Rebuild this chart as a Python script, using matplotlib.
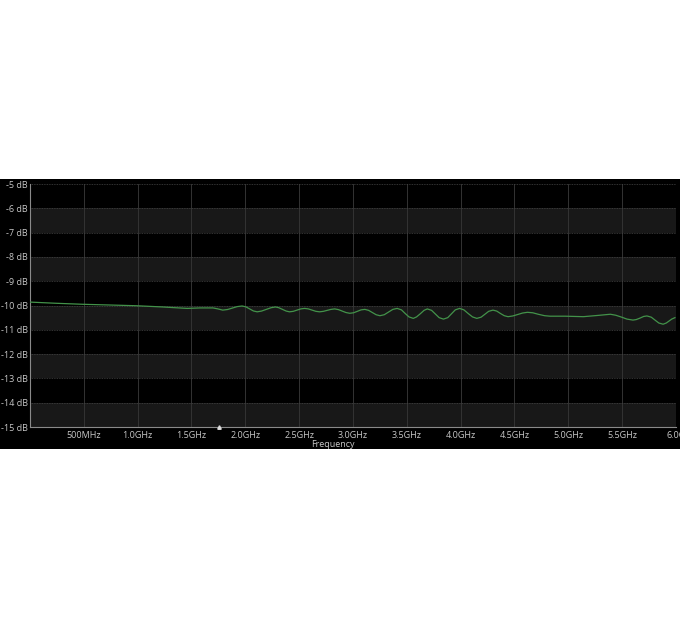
import matplotlib
matplotlib.use('Agg')
import matplotlib.pyplot as plt
from matplotlib.patches import Rectangle

plt.rcParams['font.family'] = ['Open Sans', 'DejaVu Sans']

# frequency (GHz) and level (dB)
freq = [0.00, 0.25, 0.49, 0.74, 0.99, 1.23, 1.46, 1.58, 1.70, 1.745,
        1.79, 1.835, 1.88, 1.925, 1.97, 2.005, 2.04, 2.075, 2.11, 2.15,
        2.195, 2.24, 2.28, 2.31, 2.345, 2.38, 2.41, 2.445, 2.48, 2.515,
        2.55, 2.585, 2.62, 2.655, 2.69, 2.725, 2.76, 2.795, 2.83, 2.865,
        2.90, 2.935, 2.97, 3.005, 3.04, 3.075, 3.11, 3.145, 3.18, 3.215,
        3.25, 3.29, 3.33, 3.37, 3.41, 3.45, 3.485, 3.52, 3.56, 3.59,
        3.625, 3.66, 3.69, 3.73, 3.765, 3.80, 3.84, 3.88, 3.915, 3.95,
        3.99, 4.03, 4.07, 4.11, 4.15, 4.19, 4.225, 4.26, 4.30, 4.335,
        4.37, 4.405, 4.44, 4.485, 4.53, 4.575, 4.62, 4.67, 4.72, 4.78,
        4.83, 4.97, 5.14, 5.27, 5.39, 5.44, 5.495, 5.545, 5.60, 5.63,
        5.665, 5.70, 5.73, 5.77, 5.805, 5.84, 5.88, 5.91, 5.935, 5.96,
        5.99]
level = [-9.86, -9.91, -9.95, -9.98, -10.01, -10.06, -10.12, -10.10, -10.10, -10.14,
         -10.19, -10.165, -10.105, -10.045, -10.02, -10.055, -10.14, -10.225, -10.26, -10.23,
         -10.16, -10.09, -10.06, -10.09, -10.16, -10.23, -10.26, -10.24, -10.19, -10.14,
         -10.12, -10.14, -10.19, -10.24, -10.26, -10.24, -10.20, -10.16, -10.14, -10.17,
         -10.23, -10.29, -10.32, -10.30, -10.24, -10.18, -10.16, -10.20, -10.29, -10.38,
         -10.42, -10.38, -10.27, -10.16, -10.12, -10.18, -10.33, -10.47, -10.53, -10.47,
         -10.34, -10.20, -10.14, -10.20, -10.35, -10.50, -10.56, -10.50, -10.34, -10.18,
         -10.12, -10.18, -10.33, -10.47, -10.53, -10.48, -10.36, -10.24, -10.19, -10.23,
         -10.33, -10.42, -10.46, -10.43, -10.37, -10.31, -10.28, -10.30, -10.36, -10.42,
         -10.44, -10.44, -10.46, -10.41, -10.36, -10.40, -10.48, -10.56, -10.60, -10.58,
         -10.52, -10.45, -10.43, -10.48, -10.60, -10.72, -10.77, -10.72, -10.64, -10.56,
         -10.50]

xticks = [0.5, 1.0, 1.5, 2.0, 2.5, 3.0, 3.5, 4.0, 4.5, 5.0, 5.5, 6.0]
xlabels = ['500MHz', '1.0GHz', '1.5GHz', '2.0GHz', '2.5GHz', '3.0GHz',
           '3.5GHz', '4.0GHz', '4.5GHz', '5.0GHz', '5.5GHz', '6.0G']
yticks = [-5, -6, -7, -8, -9, -10, -11, -12, -13, -14, -15]
marker_freq = 1.76

fig = plt.figure(figsize=(6.8, 6.3), dpi=100)
fig.patch.set_facecolor('white')
fig.patches.append(Rectangle((0, 1 - 449 / 630), 1, (449 - 179) / 630,
                             transform=fig.transFigure, facecolor='black',
                             edgecolor='none', zorder=-10))

ax = fig.add_axes([30 / 680, 1 - 427 / 630, 646 / 680, 243 / 630])
ax.set_facecolor('black')

# alternating bands
for lo in range(-15, -5):
    if lo % 2 == 1:
        ax.axhspan(lo, lo + 1, color='#181818', lw=0, zorder=0)

for xt in xticks:
    ax.axvline(xt, color='#333333', lw=0.7, zorder=1)
for yt in yticks:
    ax.axhline(yt, color='#444444', lw=0.6, ls=(0, (1, 1)), zorder=1)

ax.plot(freq, level, color='#43934a', lw=0.9, zorder=3,
        solid_joinstyle='round')
ax.plot([marker_freq], [-15], marker='^', ms=2.5, color='#dddddd',
        clip_on=False, zorder=4)

ax.set_xlim(0, 6.0)
ax.set_ylim(-15, -5)
ax.set_xticks(xticks)
ax.set_xticklabels(xlabels)
ax.set_yticks(yticks)
ax.set_yticklabels([f'{v} dB' for v in yticks])
ax.tick_params(axis='both', length=0, labelsize=6.5, colors='#c8c8c8')
ax.tick_params(axis='x', pad=3)
ax.tick_params(axis='y', pad=1.5)
ax.set_xlabel('Frequency', fontsize=6.5, color='#c8c8c8')
ax.xaxis.set_label_coords(0.469, -0.052)

for side in ['top', 'right']:
    ax.spines[side].set_visible(False)
for side in ['left', 'bottom']:
    ax.spines[side].set_color('#8a8a8a')
    ax.spines[side].set_linewidth(0.8)

plt.savefig('out.png', dpi=100)
